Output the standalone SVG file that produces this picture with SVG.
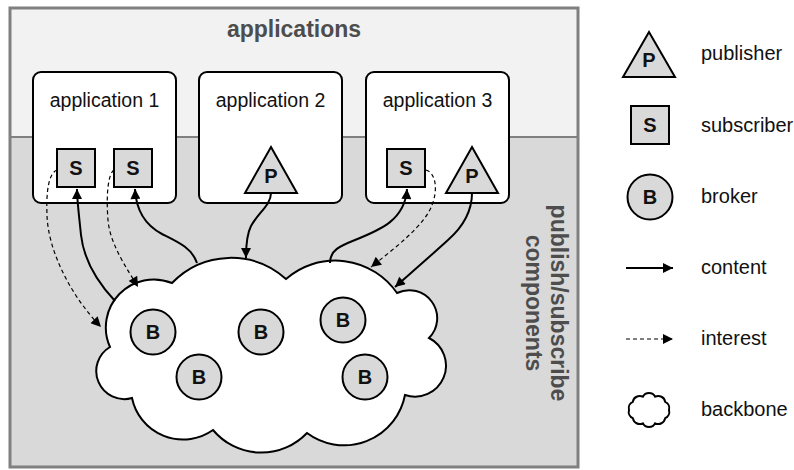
<svg xmlns="http://www.w3.org/2000/svg" width="794" height="470" viewBox="0 0 794 470">
<style>
.lbl{font-family:"Liberation Sans",Arial,sans-serif;font-size:19.5px;fill:#111}
.leg{font-family:"Liberation Sans",Arial,sans-serif;font-size:20px;fill:#111}
.ttl{font-family:"Liberation Sans",Arial,sans-serif;font-size:23px;font-weight:bold;fill:#4d4d4d}
.sym{font-family:"Liberation Sans",Arial,sans-serif;font-size:20px;font-weight:bold;fill:#111;text-anchor:middle}
.box{fill:#fff;stroke:#000;stroke-width:2}
.shp{fill:#d9d9d9;stroke:#000;stroke-width:2}
.cloud{fill:#fff;stroke:#000;stroke-width:2}
.content{fill:none;stroke:#000;stroke-width:2;marker-end:url(#ah)}
.interest{fill:none;stroke:#000;stroke-width:1.2;stroke-dasharray:4 3;marker-end:url(#ah)}
</style>
<defs>
<marker id="ah" viewBox="0 0 10 10" refX="10" refY="5" markerWidth="12" markerHeight="10" markerUnits="userSpaceOnUse" orient="auto">
<path d="M0,0 L10,5 L0,10 z" fill="#000"/>
</marker>
</defs>

<g id="frame">
<rect x="10" y="8" width="568" height="459" fill="#d9d9d9" stroke="none"/>
<rect x="10" y="8" width="568" height="129" fill="#f2f2f2" stroke="none"/>
<line x1="10" y1="137" x2="578" y2="137" stroke="#808080" stroke-width="2"/>
<rect x="10" y="8" width="568" height="459" fill="none" stroke="#808080" stroke-width="3"/>
<text class="ttl" x="294" y="37" text-anchor="middle">applications</text>
<text class="ttl" transform="translate(551,303) rotate(90)" text-anchor="middle">publish/subscribe</text>
<text class="ttl" transform="translate(526,303) rotate(90)" text-anchor="middle">components</text>
</g>

<g id="app1">
<rect class="box" x="33" y="72" width="143" height="131" rx="8"/>
<text class="lbl" x="104.5" y="107" text-anchor="middle">application 1</text>
</g>
<g id="app2">
<rect class="box" x="199" y="72" width="143" height="131" rx="8"/>
<text class="lbl" x="270.5" y="107" text-anchor="middle">application 2</text>
</g>
<g id="app3">
<rect class="box" x="366" y="72" width="143" height="131" rx="8"/>
<text class="lbl" x="437.5" y="107" text-anchor="middle">application 3</text>
</g>

<g id="backbone">
<path class="cloud" d="M110,347 A48,48 0 0 1 172,283 A82,82 0 0 1 286,279 A75,75 0 0 1 397,293 A28,28 0 0 1 429,338 A31,31 0 0 1 405,395 A62,62 0 0 1 307,433 A63,63 0 0 1 213,430 A52,52 0 0 1 132,398 A28,28 0 0 1 110,347 Z"/>
</g>

<g id="s1"><rect class="shp" x="57" y="149" width="38" height="38"/><text class="sym" x="76" y="175">S</text></g>
<g id="s2"><rect class="shp" x="114" y="149" width="38" height="38"/><text class="sym" x="133" y="175">S</text></g>
<g id="s3"><rect class="shp" x="387" y="149" width="38" height="38"/><text class="sym" x="406" y="175">S</text></g>
<g id="p2"><path class="shp" d="M271,147 L297,193 L245,193 Z"/><text class="sym" x="271" y="183">P</text></g>
<g id="p3"><path class="shp" d="M472,147 L498,193 L446,193 Z"/><text class="sym" x="472" y="183">P</text></g>

<g id="b1"><circle class="shp" cx="153" cy="332" r="22.5"/><text class="sym" x="153" y="339">B</text></g>
<g id="b2"><circle class="shp" cx="261" cy="332" r="22.5"/><text class="sym" x="261" y="339">B</text></g>
<g id="b3"><circle class="shp" cx="199" cy="377" r="22.5"/><text class="sym" x="199" y="384">B</text></g>
<g id="b4"><circle class="shp" cx="343" cy="320" r="22.5"/><text class="sym" x="343" y="327">B</text></g>
<g id="b5"><circle class="shp" cx="365" cy="377" r="22.5"/><text class="sym" x="365" y="384">B</text></g>

<g id="connectors">
<path class="interest" d="M57,170 C49,173 46,190 47,215 C48,250 70,295 101,327"/>
<path class="content" d="M115,301 C100,285 84,262 81,235 C79,215 77,200 77,189"/>
<path class="interest" d="M114,170 C108,174 106,195 108,220 C110,245 128,270 138,287"/>
<path class="content" d="M197,263 C192,248 178,242 162,234 C145,225 136,210 135,189"/>
<path class="content" d="M271,193 C271,205 258,213 251,226 C247,234 246,245 246,258"/>
<path class="content" d="M330,263 C330,250 340,246 355,240 C380,230 405,220 407,189"/>
<path class="interest" d="M426,170 C436,173 438,190 432,205 C425,225 395,248 371,267"/>
<path class="content" d="M472,193 C472,210 465,225 448,240 C435,252 412,272 395,287"/>
</g>

<g id="legend">
<g id="leg-pub"><path class="shp" d="M649,32 L675,77 L623,77 Z"/><text class="sym" x="649" y="67">P</text><text class="leg" x="701" y="60">publisher</text></g>
<g id="leg-sub"><rect class="shp" x="631" y="106" width="38" height="38"/><text class="sym" x="650" y="132">S</text><text class="leg" x="701" y="132">subscriber</text></g>
<g id="leg-bro"><circle class="shp" cx="650" cy="197" r="22.5"/><text class="sym" x="650" y="204">B</text><text class="leg" x="701" y="203">broker</text></g>
<g id="leg-con"><path class="content" d="M626,268 L673,268"/><text class="leg" x="701" y="274">content</text></g>
<g id="leg-int"><path class="interest" d="M626,339 L673,339"/><text class="leg" x="701" y="345">interest</text></g>
<g id="leg-bb"><path class="cloud" d="M669,410 A7,7 0 0 1 665.2,418.2 A7,7 0 0 1 655.2,423.3 A7,7 0 0 1 642.8,423.3 A7,7 0 0 1 632.8,418.2 A7,7 0 0 1 629,410 A7,7 0 0 1 632.8,401.8 A7,7 0 0 1 642.8,396.7 A7,7 0 0 1 655.2,396.7 A7,7 0 0 1 665.2,401.8 A7,7 0 0 1 669,410 Z"/><text class="leg" x="701" y="416">backbone</text></g>
</g>
</svg>
